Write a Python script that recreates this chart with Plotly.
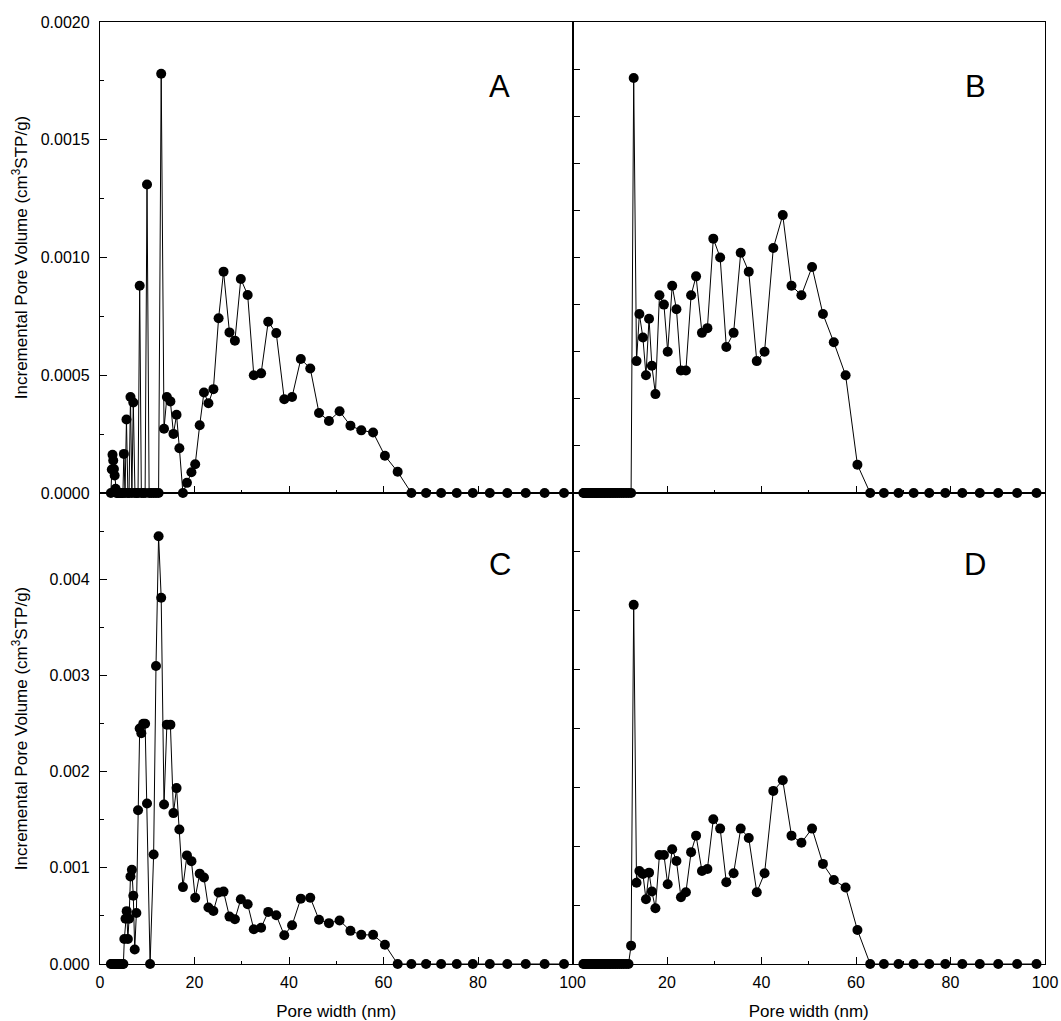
import plotly.graph_objects as go
from plotly.subplots import make_subplots

# ---------------- data ----------------
# pore widths (nm) used by panels A, B, D
width_abd = [2.3, 2.5, 2.65, 2.8, 2.95, 3.1, 3.3, 3.5, 3.75, 4.0, 4.3, 4.6, 4.85, 5.05,
             5.3, 5.6, 5.9, 6.15, 6.45, 6.75, 7.05, 7.4, 7.75, 8.05, 8.4, 8.75, 9.15,
             9.55, 9.95, 10.4, 10.85, 11.35, 11.85, 12.4,
             12.95, 13.55, 14.15, 14.9, 15.55, 16.2, 16.8, 17.55, 18.4, 19.35, 20.15,
             21.1, 22.0, 22.95, 24.0, 25.1, 26.15, 27.4, 28.55, 29.8, 31.25, 32.55,
             34.1, 35.6, 37.3, 39.0, 40.65, 42.5, 44.5, 46.35, 48.45, 50.7, 53.0,
             55.3, 57.8, 60.3, 63.0, 65.9, 69.0, 72.2, 75.5, 78.9, 82.5, 86.2, 90.1,
             94.1, 98.2]

# pore widths (nm) used by panel C
width_c = [2.3, 2.5, 2.7, 2.9, 3.1, 3.3, 3.5, 3.75, 4.0, 4.25, 4.5, 4.75, 4.95,
           5.15, 5.4, 5.65, 5.9, 6.15, 6.45, 6.75, 7.05, 7.35, 7.7, 8.05, 8.4, 8.75,
           9.15, 9.55, 9.95, 10.6, 11.35, 11.85, 12.4,
           12.95, 13.55, 14.15, 14.9, 15.55, 16.2, 16.8, 17.55, 18.4, 19.35, 20.15,
           21.1, 22.0, 22.95, 24.0, 25.1, 26.15, 27.4, 28.55, 29.8, 31.25, 32.55,
           34.1, 35.6, 37.3, 39.0, 40.65, 42.5, 44.5, 46.35, 48.45, 50.7, 53.0,
           55.3, 57.8, 60.3, 63.0, 65.9, 69.0, 72.2, 75.5, 78.9, 82.5, 86.2, 90.1,
           94.1, 98.2]

vol_a = [0, 0.0001, 0.000162, 0.000138, 0.000102, 0.000074, 0.000018, 0, 0, 0, 0, 0,
         0, 0.000166, 0, 0.000312, 0, 0, 0.000408, 0, 0.000384, 0, 0, 0, 0.00088, 0,
         0, 0, 0.00131, 0, 0, 0, 0, 0,
         0.00178, 0.000273, 0.000408, 0.000389, 0.000251, 0.000332, 0.00019, 0,
         0.000043, 0.000088, 0.000122, 0.000288, 0.000427, 0.000381, 0.000441,
         0.000742, 0.00094, 0.000682, 0.000647, 0.000909, 0.000841, 0.0005, 0.000508,
         0.000727, 0.000679, 0.000398, 0.000408, 0.000569, 0.000529, 0.00034,
         0.000306, 0.000347, 0.000286, 0.000266, 0.000257, 0.000158, 0.00009,
         0, 0, 0, 0, 0, 0, 0, 0, 0, 0]

vol_b = [0] * 34 + [
         0.001762, 0.00056, 0.00076, 0.00066, 0.0005, 0.00074, 0.00054, 0.00042,
         0.00084, 0.0008, 0.0006, 0.00088, 0.00078, 0.00052, 0.00052, 0.00084,
         0.00092, 0.00068, 0.0007, 0.00108, 0.001, 0.00062, 0.00068, 0.00102,
         0.00094, 0.00056, 0.0006, 0.00104, 0.00118, 0.00088, 0.00084, 0.00096,
         0.00076, 0.00064, 0.0005, 0.00012, 0,
         0, 0, 0, 0, 0, 0, 0, 0, 0, 0]

vol_c = [0, 0, 0, 0, 0, 0, 0, 0, 0, 0, 0, 0, 0,
         0.00026, 0.00047, 0.00055, 0.00026, 0.00047, 0.00091, 0.00098, 0.00071,
         0.00015, 0.00053, 0.0016, 0.00245, 0.0024, 0.0025, 0.0025, 0.00167, 0,
         0.00114, 0.0031, 0.00445,
         0.00381, 0.00166, 0.00249, 0.00249, 0.00157, 0.00183, 0.0014, 0.0008,
         0.00113, 0.00107, 0.00069, 0.00094, 0.0009, 0.000587, 0.000552, 0.000743,
         0.000753, 0.000493, 0.000465, 0.000674, 0.000622, 0.000361, 0.000378,
         0.000542, 0.000507, 0.000299, 0.000403, 0.00068, 0.00069, 0.00046,
         0.000425, 0.000453, 0.000345, 0.000303, 0.000303, 0.0002, 0,
         0, 0, 0, 0, 0, 0, 0, 0, 0, 0]

vol_d = [0] * 33 + [0.000156,
         0.00305, 0.00069, 0.00079, 0.000765, 0.00055, 0.000776, 0.000615, 0.000473,
         0.000926, 0.000926, 0.000677, 0.000975, 0.000875, 0.000567, 0.000609,
         0.00095, 0.00109, 0.00079, 0.000807, 0.00123, 0.00115, 0.000694, 0.00077,
         0.00115, 0.00107, 0.000609, 0.00077, 0.00147, 0.00156, 0.00109, 0.00103,
         0.00115, 0.00085, 0.000714, 0.000649, 0.000289, 0,
         0, 0, 0, 0, 0, 0, 0, 0, 0, 0]

panel_labels = ["A", "B", "C", "D"]
x_title = "Pore width (nm)"
y_title = "Incremental Pore Volume (cm<sup>3</sup>STP/g)"

ticks_a_y = [0, 0.0005, 0.0010, 0.0015, 0.0020]
ticks_c_y = [0, 0.001, 0.002, 0.003, 0.004]
ticks_c_x = [0, 20, 40, 60, 80, 100]
ticks_d_x = [20, 40, 60, 80, 100]

# ---------------- figure ----------------
FONT = "Liberation Sans, Arial, sans-serif"
fig = make_subplots(rows=2, cols=2, horizontal_spacing=0, vertical_spacing=0)

series = [(width_abd, vol_a, 1, 1), (width_abd, vol_b, 1, 2),
          (width_c, vol_c, 2, 1), (width_abd, vol_d, 2, 2)]
for xs, ys, r, c in series:
    fig.add_trace(go.Scatter(x=xs, y=ys, mode="lines+markers",
                             line=dict(color="black", width=1),
                             marker=dict(size=10, color="black"),
                             cliponaxis=False, showlegend=False), row=r, col=c)

axis_common = dict(showline=True, mirror=True, linecolor="black", linewidth=1.3,
                   ticks="inside", ticklen=7, tickwidth=1.2, tickcolor="black",
                   showgrid=False, zeroline=False, automargin=False,
                   tickfont=dict(family=FONT, size=16, color="black"))

def xaxis(labels):
    d = dict(axis_common, range=[0, 100],
             minor=dict(tickmode="linear", tick0=0, dtick=10, ticks="inside",
                        ticklen=3, tickcolor="black", showgrid=False))
    if labels is None:
        d.update(tickmode="array", tickvals=[0, 20, 40, 60, 80, 100], showticklabels=False)
    else:
        d.update(tickmode="array", tickvals=labels, ticktext=[str(v) for v in labels],
                 showticklabels=True, ticklabelstandoff=4,
                 title=dict(text=x_title, standoff=15,
                            font=dict(family=FONT, size=17, color="black")))
    return d

fig.update_layout(
    xaxis=xaxis(None), xaxis2=xaxis(None), xaxis3=xaxis(ticks_c_x), xaxis4=xaxis(ticks_d_x),
    yaxis=dict(axis_common, range=[0, 0.002], tickmode="array", tickvals=ticks_a_y,
               ticktext=["%.4f" % v for v in ticks_a_y], ticklabelstandoff=6,
               minor=dict(tickmode="linear", tick0=0, dtick=0.00025, ticks="inside",
                          ticklen=4, tickcolor="black", showgrid=False)),
    yaxis2=dict(axis_common, range=[0, 0.002], tickmode="linear", tick0=0, dtick=0.0002,
                showticklabels=False),
    yaxis3=dict(axis_common, range=[0, 0.0049], tickmode="array", tickvals=ticks_c_y,
                ticktext=["%.3f" % v for v in ticks_c_y], ticklabelstandoff=6,
                minor=dict(tickmode="linear", tick0=0, dtick=0.0005, ticks="inside",
                           ticklen=4, tickcolor="black", showgrid=False)),
    yaxis4=dict(axis_common, range=[0, 0.004], tickmode="linear", tick0=0, dtick=0.0005,
                showticklabels=False),
    width=1061, height=1021,
    margin=dict(l=100, r=16, t=22, b=57),
    paper_bgcolor="white", plot_bgcolor="white",
    font=dict(family=FONT, color="black"),
)

annotations = []
# panel letters
for lab, (px, py) in zip(panel_labels, [(0.423, 0.932), (0.926, 0.932), (0.423, 0.424), (0.926, 0.424)]):
    annotations.append(dict(text=lab, x=px, y=py, xref="paper", yref="paper",
                            xanchor="center", yanchor="middle",
                            showarrow=False, font=dict(family=FONT, size=31, color="black")))
# y titles
for yc in [0.75, 0.25]:
    annotations.append(dict(text=y_title, x=-0.085, y=yc, xref="paper", yref="paper",
                            xanchor="center", yanchor="middle",
                            textangle=-90, showarrow=False,
                            font=dict(family=FONT, size=17, color="black")))
fig.update_layout(annotations=annotations)

fig.write_html("out.html", config={"displayModeBar": False},
               post_script="document.body.style.margin='0';")
